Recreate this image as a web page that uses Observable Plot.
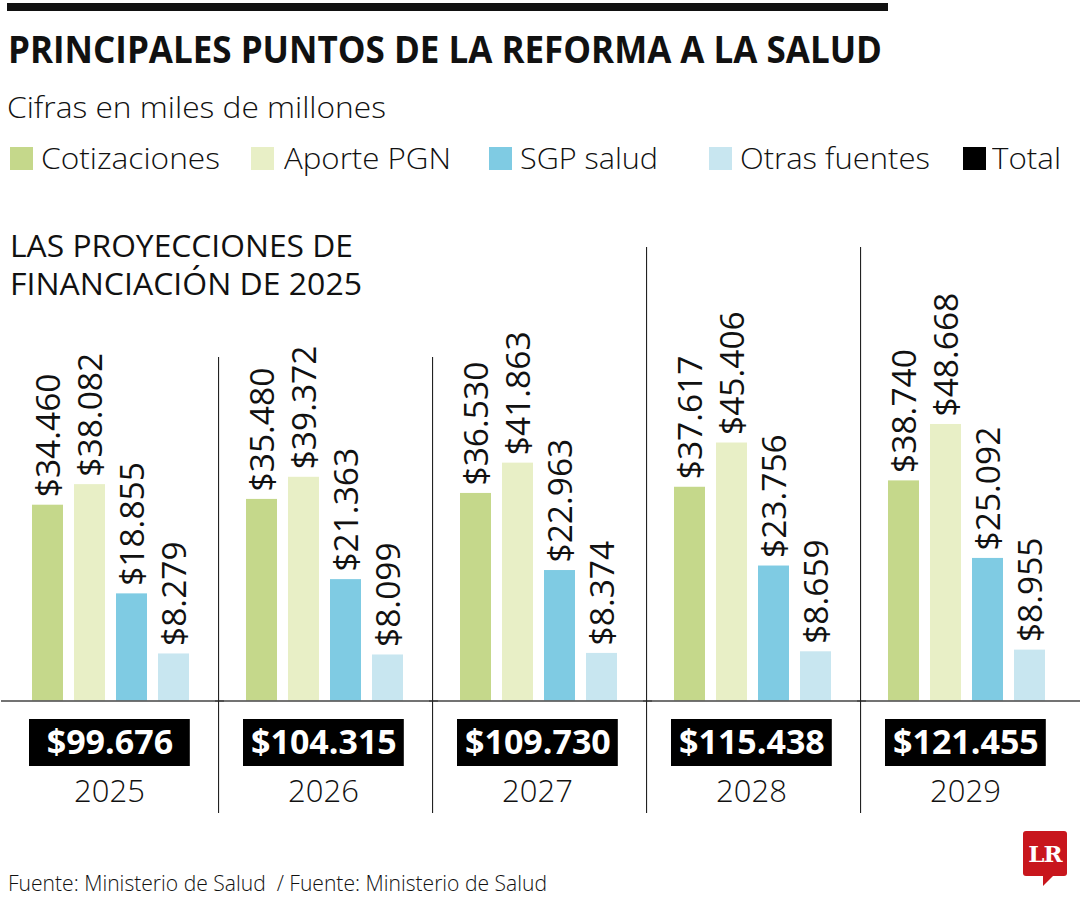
<!DOCTYPE html>
<html><head><meta charset="utf-8">
<script src="https://cdn.jsdelivr.net/npm/d3@7"></script>
<script src="https://cdn.jsdelivr.net/npm/@observablehq/plot@0.6"></script>
<style>
html,body{margin:0;padding:0;background:#fff;}
body{width:1080px;height:900px;position:relative;overflow:hidden;font-family:"Open Sans",sans-serif;color:#111;}
.abs{position:absolute;white-space:nowrap;line-height:1;transform-origin:0 0;}
#topbar{position:absolute;left:7px;top:3px;width:881px;height:8px;background:#111;}
#chart{position:absolute;left:0;top:230px;}
.sq{position:absolute;width:23px;height:23px;}
#logo{position:absolute;left:1023px;top:831px;width:44px;height:45px;background:#c8161d;border-radius:3px;color:#fff;font-family:"DejaVu Serif","Liberation Serif",serif;font-weight:700;font-size:23px;line-height:45px;text-align:center;letter-spacing:-1px;}
#tail{position:absolute;left:1043px;top:876px;width:0;height:0;border-right:10px solid transparent;border-top:10px solid #c8161d;}
</style></head><body>
<div id="topbar"></div>
<div class="abs fit" data-w="874" style="left:8px;top:30px;font-size:37px;font-weight:700;">PRINCIPALES PUNTOS DE LA REFORMA A LA SALUD</div>
<div class="abs fit" data-w="379" style="left:7px;top:92px;font-size:30px;font-weight:300;">Cifras en miles de millones</div>
<div id="legend"></div>
<div id="chart"></div>
<div class="abs fit" data-w="343" style="left:10px;top:229.5px;font-size:30.5px;font-weight:400;">LAS PROYECCIONES DE</div>
<div class="abs fit" data-w="352" style="left:10px;top:267.5px;font-size:30.5px;font-weight:400;">FINANCIACIÓN DE 2025</div>
<div class="abs fit" data-w="539" style="left:8px;top:871px;font-size:22px;font-weight:300;">Fuente: Ministerio de Salud&nbsp; / Fuente: Ministerio de Salud</div>
<div id="logo">LR</div><div id="tail"></div>
<script>
// ---- data ----
const years = ["2025", "2026", "2027", "2028", "2029"];
const seriesNames = ["Cotizaciones", "Aporte PGN", "SGP salud", "Otras fuentes"];
const cotizaciones = [34460, 35480, 36530, 37617, 38740];
const aportePGN = [38082, 39372, 41863, 45406, 48668];
const sgpSalud = [18855, 21363, 22963, 23756, 25092];
const otrasFuentes = [8279, 8099, 8374, 8659, 8955];
const totals = [99676, 104315, 109730, 115438, 121455];
const legendNames = ["Cotizaciones", "Aporte PGN", "SGP salud", "Otras fuentes", "Total"];
const seriesColors = ["#c5d88b", "#e8efc6", "#7fcbe3", "#c8e6f0"];
const totalColor = "#000";

// ---- tables ----
const seriesValues = [cotizaciones, aportePGN, sgpSalud, otrasFuentes];
const rows = [];
years.forEach((yr, i) => seriesNames.forEach((s, j) => rows.push({year: yr, series: s, value: seriesValues[j][i]})));
const totalRows = years.map((yr, i) => ({year: yr, total: totals[i]}));
const sepRows = years.slice(1).map(yr => ({year: yr}));
const sepShort = sepRows.filter(d => +d.year <= 2027);
const sepTall = sepRows.filter(d => +d.year > 2027);

const loc = d3.formatLocale({decimal: ",", thousands: ".", grouping: [3], currency: ["$", ""]});
const fmt = loc.format("$,d");

// ---- legend ----
const legendX = [10, 251, 489, 709, 963];
const legendTextX = [41, 284, 520, 740, 992];
const legendW = [179, 167, 138, 190, 69];
const legendEl = document.getElementById("legend");
legendNames.forEach((n, i) => {
  const sq = document.createElement("div");
  sq.className = "sq";
  sq.style.left = legendX[i] + "px";
  sq.style.top = "147px";
  sq.style.background = i < 4 ? seriesColors[i] : totalColor;
  legendEl.appendChild(sq);
  const t = document.createElement("div");
  t.className = "abs fit";
  t.dataset.w = legendW[i];
  t.style.left = legendTextX[i] + "px";
  t.style.top = "143.3px";
  t.style.fontSize = "30px";
  t.style.fontWeight = "300";
  t.textContent = n;
  legendEl.appendChild(t);
});

// ---- chart ----
const W = 1080, H = 600, mL = 3, mR = 6, mT = 17, mB = 17;
const facetW = (W - mL - mR) / years.length;
const baseY = 470.5, unitsPerPx = 176;
const boxW = 161;

const plot = Plot.plot({
  width: W, height: H,
  marginLeft: mL, marginRight: mR, marginTop: mT, marginBottom: mB,
  style: {fontFamily: "Open Sans, sans-serif", background: "transparent", overflow: "visible"},
  fx: {domain: years, padding: 0, axis: null},
  x: {domain: seriesNames, paddingInner: 0.256, paddingOuter: 0.62, axis: null},
  y: {domain: [0, 60000], range: [baseY, baseY - 60000 / unitsPerPx], axis: null},
  color: {domain: seriesNames, range: seriesColors},
  marks: [
    Plot.barY(rows, {fx: "year", x: "series", y: "value", fill: "series"}),
    Plot.text(rows, {fx: "year", x: "series", y: "value", text: d => fmt(d.value), rotate: -90,
      textAnchor: "start", lineAnchor: "middle", dy: -8, dx: 1, fontSize: 33.5, fill: "#111"}),
    Plot.ruleY([0], {stroke: "#444", strokeWidth: 1.5, insetLeft: -mL, insetRight: -mR}),
    Plot.rect(sepShort, {fx: "year", fill: "#222", insetTop: 110, insetRight: facetW - 1.3}),
    Plot.rect(sepTall, {fx: "year", fill: "#222", insetTop: 0, insetRight: facetW - 1.3}),
    Plot.rect(totalRows, {fx: "year", fill: totalColor, insetTop: 472, insetBottom: 47,
      insetLeft: 25, insetRight: facetW - 25 - boxW}),
    Plot.text(totalRows, {fx: "year", text: d => fmt(d.total), frameAnchor: "bottom",
      dy: -70.5, dx: 25 + boxW / 2 - facetW / 2, lineAnchor: "middle", fill: "#fff",
      fontSize: 34, fontWeight: 700}),
    Plot.text(totalRows, {fx: "year", text: "year", frameAnchor: "bottom",
      dy: -21, dx: -2, lineAnchor: "middle", fill: "#111", fontSize: 31, fontWeight: 300})
  ]
});
document.getElementById("chart").appendChild(plot);

// ---- fit HTML text widths ----
function fit() {
  document.querySelectorAll(".fit").forEach(el => {
    el.style.transform = "none";
    const w = el.getBoundingClientRect().width;
    const target = +el.dataset.w;
    if (w > 0 && target) el.style.transform = `scaleX(${target / w})`;
  });
}
fit();
if (document.fonts && document.fonts.ready) document.fonts.ready.then(fit);
</script>
</body></html>
